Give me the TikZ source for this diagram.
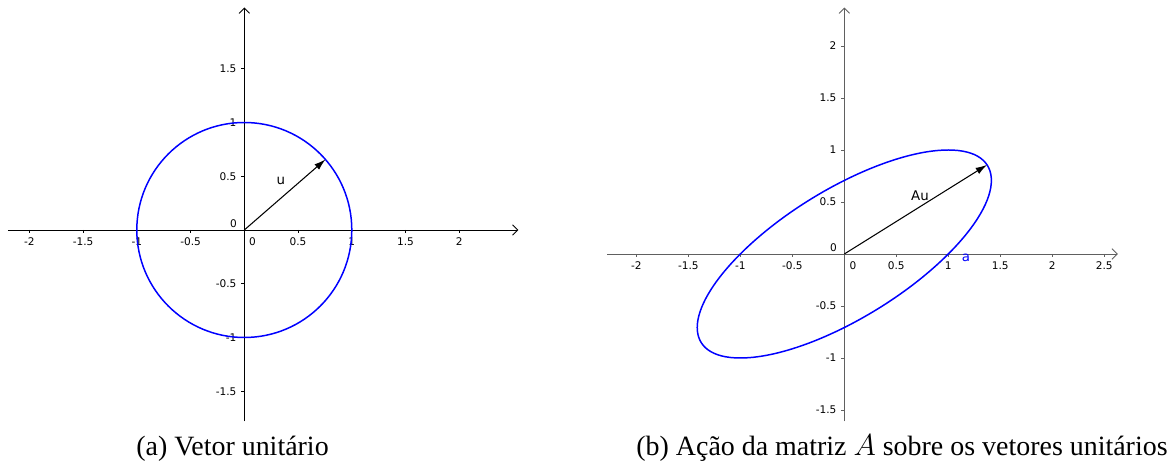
\documentclass[tikz,border=0pt]{standalone}
\usepackage{fontspec}
\setmainfont{Liberation Serif}
\newfontfamily\ggbfont{DejaVu Sans}
\usetikzlibrary{arrows.meta}
\definecolor{ggbblue}{RGB}{0,0,255}
\definecolor{axisgray}{RGB}{96,96,96}
\tikzset{
  axis/.style={line width=0.5pt,-{Straight Barb[length=3pt,width=6pt]}},
  tickmark/.style={line width=0.5pt},
  ticklabel/.style={font=\ggbfont\fontsize{6}{7}\selectfont,inner sep=0pt},
  vlabel/.style={font=\ggbfont\fontsize{7.6}{8}\selectfont,inner sep=0pt},
  curve/.style={ggbblue,line width=0.85pt},
  vec/.style={line width=0.6pt,-{Latex[length=6.5pt,width=4pt]}},
  caption/.style={font=\fontsize{15.9}{19}\selectfont,anchor=base},
}
\begin{document}
\begin{tikzpicture}
\useasboundingbox (0,0) rectangle (23.46,9.5);
% (a) unit circle
\begin{scope}[shift={(4.886,4.9)},x=2.15cm,y=2.15cm]
\coordinate (O1) at (0,0);
\draw[axis] (-2.2,0) -- (2.55,0);
\draw[axis] (0,-1.78) -- (0,2.07);
\foreach \t [count=\k] in {-2,-1.5,-1,-0.5,0.5,1,1.5,2}
  {\draw[tickmark] (\t,0) -- ++(0,-0.06cm);
   \node[ticklabel,anchor=north,yshift=-0.15cm] (ax\k) at (\t,0) {\t};}
\foreach \t [count=\k] in {-1.5,-1,-0.5,0.5,1,1.5}
  {\draw[tickmark] (0,\t) -- ++(-0.06cm,0);
   \node[ticklabel,anchor=east,xshift=-0.15cm] (ay\k) at (0,\t) {\t};}
\node[ticklabel,anchor=north west,xshift=0.09cm,yshift=-0.15cm] (ax0) at (O1) {0};
\node[ticklabel,anchor=south east,xshift=-0.14cm,yshift=0.03cm] (ay0) at (O1) {0};
\draw[curve] (O1) circle (1);
\coordinate (u) at (41:1);
\draw[vec] (O1) -- (u);
\node[vlabel] (ulab) at (0.34,0.456) {u};
\end{scope}
% (b) image under A
\begin{scope}[shift={(16.886,4.42)},x=2.08cm,y=2.08cm]
\coordinate (O2) at (0,0);
\draw[axis,axisgray] (-2.28,0) -- (2.63,0);
\draw[axis,axisgray] (0,-1.61) -- (0,2.37);
\foreach \t [count=\k] in {-2,-1.5,-1,-0.5,0.5,1,1.5,2,2.5}
  {\draw[tickmark,axisgray] (\t,0) -- ++(0,-0.06cm);
   \node[ticklabel,anchor=north,yshift=-0.15cm] (bx\k) at (\t,0) {\t};}
\foreach \t [count=\k] in {-1.5,-1,-0.5,0.5,1,1.5,2}
  {\draw[tickmark,axisgray] (0,\t) -- ++(-0.06cm,0);
   \node[ticklabel,anchor=east,xshift=-0.15cm] (by\k) at (0,\t) {\t};}
\node[ticklabel,anchor=north west,xshift=0.1cm,yshift=-0.15cm] (bx0) at (O2) {0};
\node[ticklabel,anchor=south east,xshift=-0.14cm,yshift=0.04cm] (by0) at (O2) {0};
\draw[curve,cm={1,0,1,1,(0,0)}] (O2) circle (1);
\coordinate (Au) at ({cos(59)+sin(59)},{sin(59)});
\draw[vec] (O2) -- (Au);
\node[vlabel] (Aulab) at (0.728,0.558) {Au};
\node[vlabel,text=ggbblue] (alab) at (1.17,-0.035) {a};
\end{scope}
% captions
\node[caption] (capa) at (4.65,0.38) {(a) Vetor unitário};
\node[caption] (capb) at (18.04,0.38) {(b) Ação da matriz $A$ sobre os vetores unitários};
\end{tikzpicture}
\end{document}
